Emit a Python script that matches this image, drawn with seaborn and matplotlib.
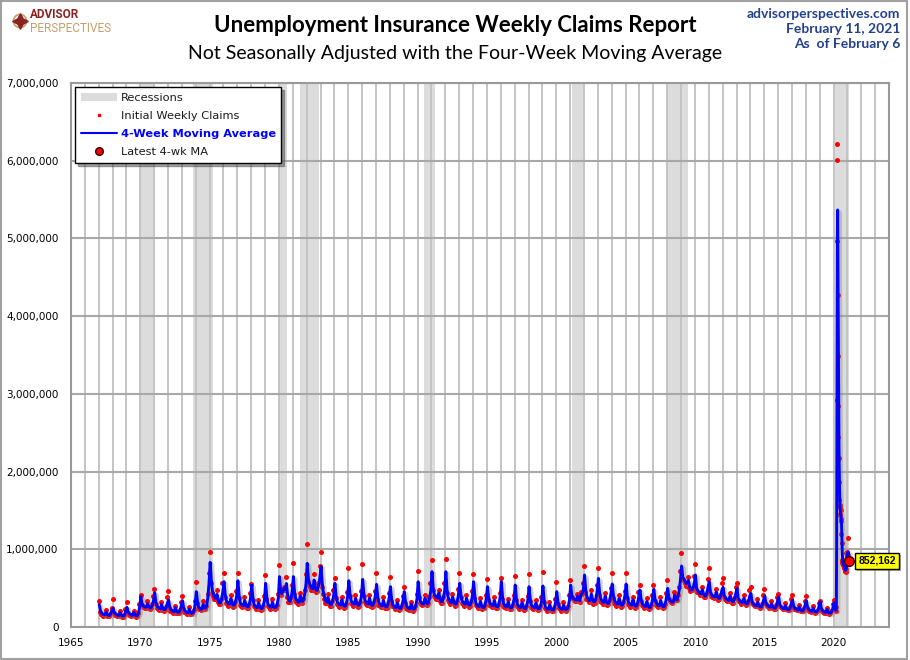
import numpy as np
import pandas as pd
import matplotlib
matplotlib.use("Agg")
import matplotlib.pyplot as plt
import matplotlib.dates as mdates
import matplotlib.patheffects as pe
from matplotlib.patches import Patch, Rectangle
from matplotlib.lines import Line2D
from matplotlib.ticker import FuncFormatter, MultipleLocator
import seaborn as sns

# ---------------- data (thousands) ----------------
# Monthly 4-week moving average, Jan..Dec for each year, starting 1967
ma_1960s = [
    290, 213, 180, 168, 158, 158, 195, 162, 150, 150, 173, 218,  # 1967
    240, 186, 170, 159, 149, 149, 185, 153, 142, 142, 163, 206,  # 1968
    253, 194, 174, 162, 152, 152, 189, 157, 145, 150, 180, 260,  # 1969
]
ma_1970s = [
    390, 300, 275, 265, 255, 260, 300, 262, 245, 250, 285, 340,  # 1970
    442, 320, 270, 252, 236, 236, 292, 243, 225, 225, 259, 310,  # 1971
    347, 260, 228, 213, 200, 200, 247, 205, 190, 190, 219, 275,  # 1972
    339, 250, 211, 197, 185, 185, 229, 190, 176, 180, 210, 290,  # 1973
    455, 330, 260, 240, 228, 235, 290, 250, 245, 270, 380, 560,  # 1974
    832, 600, 470, 420, 380, 370, 420, 340, 313, 313, 360, 460,  # 1975
    583, 418, 340, 317, 297, 297, 368, 306, 283, 283, 325, 410,  # 1976
    596, 412, 314, 293, 275, 275, 341, 283, 262, 262, 301, 380,  # 1977
    540, 375, 288, 269, 252, 252, 312, 259, 240, 240, 276, 348,  # 1978
    562, 388, 294, 274, 257, 257, 319, 265, 250, 255, 290, 370,  # 1979
]
ma_1980s = [
    648, 470, 430, 460, 500, 480, 560, 420, 350, 330, 370, 460,  # 1980
    648, 450, 370, 345, 320, 320, 400, 340, 330, 360, 440, 560,  # 1981
    819, 620, 560, 530, 500, 490, 605, 520, 470, 480, 540, 640,  # 1982
    776, 560, 450, 390, 340, 320, 380, 320, 290, 290, 330, 420,  # 1983
    562, 400, 324, 302, 284, 284, 351, 292, 270, 270, 311, 392,  # 1984
    596, 424, 340, 317, 297, 297, 368, 306, 283, 283, 325, 410,  # 1985
    613, 430, 345, 320, 300, 298, 372, 305, 280, 285, 328, 405,  # 1986
    549, 391, 314, 293, 275, 275, 341, 283, 262, 262, 301, 380,  # 1987
    519, 366, 288, 269, 252, 252, 312, 259, 240, 240, 276, 348,  # 1988
    455, 329, 270, 252, 236, 236, 293, 243, 230, 240, 275, 360,  # 1989
]
ma_1990s = [
    583, 418, 330, 310, 297, 300, 370, 320, 300, 320, 380, 470,  # 1990
    712, 500, 420, 400, 380, 375, 440, 360, 326, 330, 380, 470,  # 1991
    712, 483, 380, 345, 320, 315, 385, 320, 296, 296, 340, 430,  # 1992
    562, 408, 340, 317, 297, 297, 368, 306, 283, 283, 325, 410,  # 1993
    583, 402, 304, 283, 266, 266, 329, 273, 253, 253, 291, 367,  # 1994
    519, 378, 314, 293, 275, 275, 341, 283, 262, 262, 301, 380,  # 1995
    583, 399, 299, 279, 261, 261, 324, 269, 249, 249, 286, 361,  # 1996
    540, 375, 288, 269, 252, 252, 312, 259, 240, 240, 276, 348,  # 1997
    519, 362, 284, 266, 250, 248, 308, 255, 236, 238, 272, 342,  # 1998
    528, 358, 263, 245, 230, 230, 285, 237, 219, 219, 252, 318,  # 1999
]
ma_2000s = [
    455, 325, 263, 245, 230, 230, 285, 237, 225, 235, 270, 350,  # 2000
    540, 410, 370, 360, 350, 345, 400, 350, 340, 420, 430, 480,  # 2001
    669, 480, 391, 365, 342, 342, 424, 352, 326, 326, 375, 473,  # 2002
    626, 450, 366, 342, 320, 320, 397, 329, 305, 305, 351, 442,  # 2003
    553, 405, 340, 317, 297, 297, 368, 306, 283, 283, 325, 410,  # 2004
    553, 397, 324, 302, 284, 284, 351, 292, 270, 270, 311, 392,  # 2005
    476, 353, 304, 283, 266, 266, 329, 273, 253, 253, 291, 367,  # 2006
    485, 362, 314, 293, 275, 275, 341, 283, 262, 265, 305, 385,  # 2007
    498, 380, 340, 330, 320, 330, 410, 360, 350, 400, 480, 600,  # 2008
    785, 640, 620, 590, 560, 570, 600, 520, 480, 480, 500, 570,  # 2009
]
ma_2010s = [
    669, 500, 470, 450, 430, 430, 480, 430, 400, 400, 440, 520,  # 2010
    583, 450, 420, 400, 390, 390, 450, 390, 370, 370, 410, 480,  # 2011
    510, 400, 375, 360, 345, 345, 400, 350, 330, 330, 365, 440,  # 2012
    498, 370, 345, 330, 315, 315, 370, 320, 300, 300, 335, 400,  # 2013
    433, 330, 300, 285, 275, 275, 320, 275, 260, 260, 290, 350,  # 2014
    399, 310, 285, 270, 258, 258, 300, 258, 245, 245, 272, 330,  # 2015
    390, 290, 262, 248, 237, 237, 278, 237, 225, 225, 250, 305,  # 2016
    347, 268, 245, 232, 221, 221, 260, 221, 210, 210, 235, 285,  # 2017
    339, 255, 228, 215, 205, 205, 242, 205, 195, 195, 218, 265,  # 2018
    326, 240, 212, 200, 190, 190, 225, 190, 180, 180, 202, 248,  # 2019
]
ma_2020_jan_feb = [313, 225]

# Monthly initial weekly claims samples, Jan..Dec for each year, starting 1967
claims_1960s = [
    335, 199, 165, 158, 146, 153, 218, 147, 138, 143, 168, 248,
    355, 176, 156, 149, 138, 145, 206, 139, 131, 135, 159, 234,
    322, 183, 160, 152, 141, 148, 210, 142, 133, 140, 175, 300,
]
claims_1970s = [
    412, 285, 262, 252, 240, 250, 335, 245, 228, 240, 290, 400,
    485, 300, 248, 236, 218, 230, 326, 220, 207, 214, 252, 380,
    459, 245, 209, 200, 184, 194, 276, 186, 175, 181, 213, 320,
    399, 233, 194, 185, 171, 180, 255, 172, 165, 175, 215, 340,
    579, 310, 245, 228, 215, 228, 330, 240, 235, 275, 420, 700,
    965, 560, 440, 400, 360, 355, 470, 320, 295, 300, 360, 560,
    699, 388, 311, 297, 275, 289, 410, 277, 260, 269, 317, 467,
    699, 379, 288, 275, 254, 267, 380, 257, 241, 249, 293, 432,
    553, 345, 264, 252, 233, 245, 348, 235, 221, 228, 269, 396,
    669, 356, 270, 257, 238, 250, 355, 240, 228, 240, 285, 420,
]
claims_1980s = [
    802, 440, 410, 470, 510, 470, 640, 390, 320, 320, 380, 540,
    819, 420, 345, 325, 300, 310, 440, 320, 315, 355, 470, 680,
    1068, 580, 530, 510, 470, 470, 680, 490, 445, 460, 560, 780,
    961, 520, 420, 365, 315, 305, 420, 300, 270, 275, 330, 480,
    626, 372, 297, 284, 262, 275, 392, 265, 248, 257, 302, 446,
    755, 393, 311, 297, 275, 289, 410, 277, 260, 269, 317, 467,
    807, 397, 316, 300, 278, 290, 415, 276, 258, 272, 320, 462,
    691, 362, 288, 275, 254, 267, 380, 257, 241, 249, 293, 432,
    639, 338, 264, 252, 233, 245, 348, 235, 221, 228, 269, 396,
    519, 306, 248, 236, 218, 230, 326, 220, 212, 228, 275, 420,
]
claims_1990s = [
    721, 388, 305, 295, 280, 290, 410, 300, 285, 315, 390, 560,
    862, 470, 400, 385, 360, 365, 480, 340, 305, 315, 380, 560,
    875, 442, 350, 325, 300, 305, 430, 290, 272, 281, 332, 488,
    699, 380, 311, 297, 275, 289, 410, 277, 260, 269, 317, 467,
    678, 369, 278, 266, 245, 258, 367, 248, 233, 240, 283, 417,
    613, 352, 288, 275, 254, 267, 380, 257, 241, 249, 293, 432,
    635, 366, 274, 261, 242, 254, 361, 244, 229, 237, 279, 411,
    656, 345, 264, 252, 233, 245, 348, 235, 221, 228, 269, 396,
    678, 334, 260, 249, 231, 242, 344, 232, 218, 226, 265, 390,
    712, 327, 241, 230, 212, 223, 318, 215, 201, 208, 245, 361,
]
claims_2000s = [
    583, 302, 241, 230, 212, 223, 318, 220, 210, 228, 270, 410,
    605, 390, 355, 345, 335, 335, 430, 335, 320, 450, 420, 560,
    785, 446, 359, 342, 316, 333, 473, 319, 300, 310, 365, 538,
    755, 417, 336, 320, 296, 311, 442, 299, 281, 290, 342, 503,
    691, 378, 311, 297, 275, 289, 410, 277, 260, 269, 317, 467,
    691, 369, 297, 284, 262, 275, 392, 265, 248, 257, 302, 446,
    540, 331, 278, 266, 245, 258, 367, 248, 233, 240, 283, 417,
    540, 340, 288, 275, 254, 267, 380, 257, 241, 252, 300, 440,
    605, 360, 330, 325, 310, 330, 450, 350, 345, 410, 520, 720,
    957, 620, 610, 570, 530, 560, 640, 500, 460, 470, 510, 660,
]
claims_2010s = [
    811, 470, 450, 440, 410, 420, 520, 410, 380, 385, 440, 620,
    755, 420, 400, 390, 375, 380, 490, 375, 350, 355, 410, 570,
    626, 380, 360, 350, 330, 335, 440, 335, 310, 315, 370, 520,
    562, 350, 330, 320, 300, 305, 410, 305, 285, 290, 340, 470,
    519, 310, 290, 280, 265, 268, 355, 262, 248, 252, 295, 410,
    485, 295, 275, 265, 250, 252, 330, 248, 235, 238, 278, 390,
    420, 272, 252, 243, 230, 232, 305, 228, 215, 218, 255, 360,
    412, 255, 235, 226, 214, 216, 285, 213, 200, 204, 240, 335,
    399, 240, 218, 210, 198, 200, 265, 198, 186, 189, 222, 312,
    339, 225, 203, 195, 183, 185, 245, 183, 172, 175, 206, 292,
]
claims_2020_jan_feb = [350, 215]

# Weekly values from week ending 2020-03-07 to 2021-02-06
weekly_start = "2020-03-07"
claims_weekly = [
    200, 251, 2920, 6015, 6211, 4970, 4267, 3492, 2849, 2446, 2174, 1865,
    1629, 1564, 1540, 1460, 1440, 1384, 1503, 1370, 1200, 1081, 863, 833,
    822, 833, 866, 797, 824, 767, 758, 842, 755, 723, 738, 717, 743, 827,
    712, 948, 961, 908, 841, 922, 1151, 926, 862, 812, 809,
]
ma_weekly = [
    215, 220, 895, 2347, 3849, 5029, 5366, 4735, 3895, 3264, 2740, 2334,
    2029, 1808, 1650, 1548, 1501, 1456, 1447, 1424, 1364, 1289, 1129, 994,
    900, 838, 839, 830, 830, 814, 787, 798, 781, 770, 765, 733, 730, 756,
    750, 808, 862, 882, 915, 908, 956, 960, 965, 938, 852.162,
]

recessions = [
    ("1969-12-01", "1970-11-30"), ("1973-11-01", "1975-03-31"),
    ("1980-01-01", "1980-07-31"), ("1981-07-01", "1982-11-30"),
    ("1990-07-01", "1991-03-31"), ("2001-03-01", "2001-11-30"),
    ("2007-12-01", "2009-06-30"), ("2020-02-01", "2021-02-10"),
]

# ---------------- assemble ----------------
first_year = 1967
ma_monthly = ma_1960s + ma_1970s + ma_1980s + ma_1990s + ma_2000s + ma_2010s + ma_2020_jan_feb
cl_monthly = (claims_1960s + claims_1970s + claims_1980s + claims_1990s
              + claims_2000s + claims_2010s + claims_2020_jan_feb)


def month_dates(n, day):
    return [pd.Timestamp(first_year + i // 12, i % 12 + 1, day) for i in range(n)]


wk_dates = pd.date_range(weekly_start, periods=len(ma_weekly), freq="7D")

df_ma = pd.DataFrame({
    "date": list(month_dates(len(ma_monthly), 15)) + list(wk_dates),
    "value": [v * 1000 for v in ma_monthly + ma_weekly],
})
df_cl = pd.DataFrame({
    "date": list(month_dates(len(cl_monthly), 6)) + list(wk_dates),
    "value": [v * 1000 for v in cl_monthly + claims_weekly],
})

# ---------------- plot ----------------
sns.set_theme(style="white")
plt.rcParams["font.family"] = ["DejaVu Sans"]

fig = plt.figure(figsize=(9.1, 6.6), dpi=100)
fig.patch.set_facecolor("white")
ax = fig.add_axes([71 / 910, 33 / 660, 818 / 910, 544 / 660])
ax.set_facecolor("white")

for s, e in recessions:
    ax.axvspan(pd.Timestamp(s), pd.Timestamp(e), color="#dcdcdc", lw=0, zorder=0.2)

sns.scatterplot(data=df_cl, x="date", y="value", color="#ff0000", s=13,
                linewidth=0, ax=ax, zorder=3, legend=False)
sns.lineplot(data=df_ma, x="date", y="value", color="#0000ff", lw=2.1,
             estimator=None, ax=ax, zorder=4, legend=False)
ax.lines[-1].set_path_effects([
    pe.SimpleLineShadow(offset=(1.5, -1.5), shadow_color="#808080", alpha=0.35, linewidth=2.8),
    pe.Normal()])

last_date = df_ma["date"].iloc[-1]
last_val = df_ma["value"].iloc[-1]
ax.scatter([last_date], [last_val], s=48, color="#ff0000", edgecolor="#300000",
           linewidth=1, zorder=6)
ann = ax.annotate(f"{last_val:,.0f}", xy=(last_date, last_val), xytext=(7, 0),
                  textcoords="offset points", ha="left", va="center",
                  fontsize=7.5, fontweight="bold", family="Liberation Sans",
                  color="black", zorder=7,
                  bbox=dict(boxstyle="square,pad=0.3", fc="#ffff00", ec="black", lw=1))
ann.get_bbox_patch().set_path_effects([pe.withSimplePatchShadow(offset=(1.5, -1.5), alpha=0.4)])

ax.set_xlim(pd.Timestamp("1965-01-01"), pd.Timestamp("2024-01-01"))
ax.set_ylim(0, 7_000_000)
ax.yaxis.set_major_locator(MultipleLocator(1_000_000))
ax.yaxis.set_major_formatter(FuncFormatter(lambda v, p: f"{v:,.0f}"))
ax.xaxis.set_major_locator(mdates.YearLocator(5))
ax.xaxis.set_minor_locator(mdates.YearLocator(1))
ax.xaxis.set_major_formatter(mdates.DateFormatter("%Y"))
ax.set_xlabel("")
ax.set_ylabel("")

ax.set_axisbelow(True)
ax.grid(which="both", axis="x", color="#c4c4c4", lw=1.4)
ax.grid(which="major", axis="y", color="#a8a8a8", lw=1.5)
ax.tick_params(axis="both", which="both", length=0, labelsize=7.5, colors="black")
ax.tick_params(axis="y", pad=9)
ax.tick_params(axis="x", pad=8)
for sp in ax.spines.values():
    sp.set_visible(True)
    sp.set_color("#9a9a9a")
    sp.set_linewidth(1.5)

handles = [
    Patch(facecolor="#dcdcdc", edgecolor="none"),
    Line2D([], [], color="#ff0000", marker="s", markersize=2, lw=0),
    Line2D([], [], color="#0000ff", lw=1.5),
    Line2D([], [], color="#ff0000", marker="o", markersize=5.5, markeredgecolor="#300000", lw=0),
]
labels = ["Recessions", "Initial Weekly Claims", "4-Week Moving Average", "Latest 4-wk MA"]
leg = ax.legend(handles, labels, loc="upper left", bbox_to_anchor=(0.005, 0.993),
                borderaxespad=0, frameon=True, fancybox=False, shadow=True,
                edgecolor="black", framealpha=1, fontsize=8.2, handlelength=3.2,
                handletextpad=0.3, labelspacing=0.72, borderpad=0.5)
leg.get_frame().set_linewidth(1)
leg.set_zorder(10)
for t in leg.get_texts():
    t.set_color("#1a1a1a")
leg.get_texts()[2].set_color("#0000ff")
leg.get_texts()[2].set_fontweight("bold")

# ---------------- header ----------------
fig.text(455 / 910, 1 - 25 / 660, "Unemployment Insurance Weekly Claims Report",
         ha="center", va="center", fontsize=16, fontweight="bold", family="Lato", color="black")
fig.text(455 / 910, 1 - 53 / 660, "Not Seasonally Adjusted with the Four-Week Moving Average",
         ha="center", va="center", fontsize=14, family="Lato", color="black")
hdr_col = "#23408e"
fig.text(900 / 910, 1 - 14 / 660, "advisorperspectives.com", ha="right", va="center",
         fontsize=10, fontweight="bold", family="Lato", color=hdr_col)
fig.text(900 / 910, 1 - 29 / 660, "February 11, 2021", ha="right", va="center",
         fontsize=10, fontweight="bold", family="Lato", color=hdr_col)
fig.text(900 / 910, 1 - 44 / 660, "As  of February 6", ha="right", va="center",
         fontsize=10, fontweight="bold", family="Lato", color=hdr_col)

# logo
fig.text(30 / 910, 1 - 14 / 660, "ADVISOR", ha="left", va="center", fontsize=8.5,
         fontweight="bold", family="Roboto", color="#8c2323")
fig.text(30 / 910, 1 - 28 / 660, "PERSPECTIVES", ha="left", va="center", fontsize=8.5,
         family="Roboto", color="#c4a06a")
lax = fig.add_axes([11 / 910, 1 - 31 / 660, 18 / 910, 20 / 660])
lax.set_xlim(-1, 1)
lax.set_ylim(-1, 1)
lax.axis("off")
lax.scatter([0], [0], s=90, facecolor="none", edgecolor="#c4a06a", linewidth=1.2)
lax.scatter([0], [0], s=120, marker=(4, 1, 0), color="#8c2323")

fig.patches.append(Rectangle((0.001, 0.001), 0.996, 0.997, transform=fig.transFigure,
                             fill=False, edgecolor="#a0a0a0", lw=1.5))

fig.savefig("out.png", dpi=100, facecolor="white")
